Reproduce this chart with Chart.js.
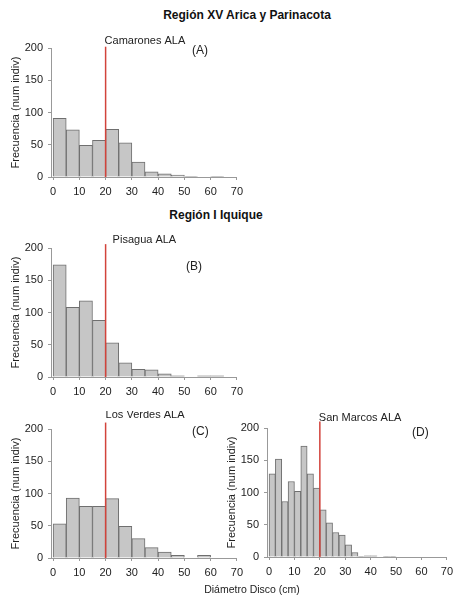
<!DOCTYPE html>
<html>
<head>
<meta charset="utf-8">
<script src="https://cdn.jsdelivr.net/npm/chart.js@4"></script>
<style>
  body { margin: 0; background: #fff; font-family: "Liberation Sans", Arial, sans-serif; }
  #page { position: relative; width: 458px; height: 604px; overflow: hidden; }
  .titulo { position: absolute; font-weight: bold; font-size: 12px; color: #111; white-space: nowrap; transform: translate(-50%, -50%); }
  .panel { position: absolute; }
  #ejeX { position: absolute; left: 252px; top: 589px; font-size: 10.5px; color: #222; transform: translate(-50%, -50%); white-space: nowrap; }
</style>
</head>
<body>
<div id="page">
  <div class="titulo" style="left:247px; top:15px;">Región XV Arica y Parinacota</div>
  <div class="titulo" style="left:216px; top:215px;">Región I Iquique</div>
  <div class="panel" style="left:0px; top:30px; width:248px; height:175px;"><canvas id="graficoA"></canvas></div>
  <div class="panel" style="left:0px; top:230px; width:248px; height:175px;"><canvas id="graficoB"></canvas></div>
  <div class="panel" style="left:0px; top:411px; width:248px; height:175px;"><canvas id="graficoC"></canvas></div>
  <div class="panel" style="left:216px; top:410px; width:242px; height:175px;"><canvas id="graficoD"></canvas></div>
  <div id="ejeX">Diámetro Disco (cm)</div>
</div>
<script>
// centros de clase (cm)
const clases5 = [2.5, 7.5, 12.5, 17.5, 22.5, 27.5, 32.5, 37.5, 42.5, 47.5, 52.5, 57.5, 62.5, 67.5];
const clases25 = [1.25, 3.75, 6.25, 8.75, 11.25, 13.75, 16.25, 18.75, 21.25, 23.75, 26.25, 28.75,
                  31.25, 33.75, 36.25, 38.75, 41.25, 43.75, 46.25, 48.75, 51.25, 53.75, 56.25, 58.75,
                  61.25, 63.75, 66.25, 68.75];

// frecuencias (num indiv)
const frecCamarones = [91, 73, 49, 57, 74, 53, 23, 8, 5, 3, 1, 0, 1, 0];
const frecPisagua = [174, 108, 118, 88, 53, 22, 12, 11, 5, 2, 0, 2, 2, 0];
const frecLosVerdes = [53, 93, 80, 80, 92, 49, 30, 16, 9, 4, 0, 4, 0, 0];
const frecSanMarcos = [129, 152, 86, 117, 102, 172, 129, 107, 73, 53, 38, 34, 19, 7,
                       1, 2, 2, 0, 1, 1, 0, 0, 0, 0, 0, 0, 0, 0];

const ticksX = [0, 10, 20, 30, 40, 50, 60, 70];
const ticksY = [0, 50, 100, 150, 200];
const tallaALA = 20; // linea roja
const alturaLinea = { A: 202, B: 206, C: 210, D: 210 };

const fuente = '"Liberation Sans", Arial, sans-serif';

// textos sobre cada panel
const etiquetasPlugin = {
    id: 'etiquetas',
    afterDraw(chart, args, opts) {
        const ctx = chart.ctx;
        const x20 = chart.scales.x.getPixelForValue(tallaALA);
        ctx.save();
        ctx.fillStyle = '#222';
        ctx.font = '11px ' + fuente;
        ctx.textBaseline = 'middle';
        ctx.textAlign = 'left';
        ctx.fillText(opts.nombre, x20 + opts.dxNombre, opts.yNombre);
        ctx.font = '12px ' + fuente;
        ctx.fillText(opts.letra, opts.xLetra, opts.yLetra);
        ctx.restore();
    }
};

function crearPanel(id, clases, frecuencias, nombre, letra, pos) {
    const ctx = document.getElementById(id).getContext('2d');
    return new Chart(ctx, {
        type: 'bar',
        data: {
            datasets: [
                {
                    type: 'line',
                    data: [{ x: tallaALA, y: 0 }, { x: tallaALA, y: alturaLinea[letra] }],
                    borderColor: '#d2433b',
                    borderWidth: 1.5,
                    pointRadius: 0,
                    clip: false,
                    order: 0
                },
                {
                    data: clases.map((c, i) => ({ x: c, y: frecuencias[i] })),
                    backgroundColor: '#c6c6c6',
                    borderColor: '#6f6f6f',
                    borderWidth: 1,
                    barPercentage: 1,
                    categoryPercentage: 1,
                    order: 1
                }
            ]
        },
        options: {
            responsive: true,
            maintainAspectRatio: false,
            animation: false,
            layout: { padding: { top: 18, right: pos.padDer, bottom: 0, left: 0 } },
            plugins: {
                legend: { display: false },
                tooltip: { enabled: false },
                etiquetas: { nombre: nombre, letra: '(' + letra + ')', dxNombre: pos.dxNombre,
                             yNombre: pos.yNombre, xLetra: pos.xLetra, yLetra: pos.yLetra }
            },
            scales: {
                x: {
                    type: 'linear',
                    offset: false,
                    min: -0.8,
                    max: 70,
                    afterBuildTicks: (s) => { s.ticks = ticksX.map(v => ({ value: v })); },
                    afterFit: (s) => { s.height = 28; },
                    grid: { display: true, offset: false, drawOnChartArea: false, tickLength: 3, color: '#999' },
                    border: { color: '#999' },
                    ticks: { color: '#222', font: { size: 11, family: fuente }, padding: 5, maxRotation: 0 }
                },
                y: {
                    min: 0,
                    max: 200,
                    afterBuildTicks: (s) => { s.ticks = ticksY.map(v => ({ value: v })); },
                    afterFit: (s) => { s.width = 51; },
                    grid: { display: true, drawOnChartArea: false, tickLength: 3, color: '#999' },
                    border: { color: '#999' },
                    ticks: { color: '#222', font: { size: 11, family: fuente }, padding: 5 },
                    title: {
                        display: true,
                        text: 'Frecuencia (num indiv)',
                        color: '#222',
                        font: { size: 11, family: fuente },
                        padding: { top: 9, bottom: 0 }
                    }
                }
            }
        },
        plugins: [etiquetasPlugin]
    });
}

crearPanel('graficoA', clases5, frecCamarones, 'Camarones ALA', 'A',
    { padDer: 11, dxNombre: -1, yNombre: 11, xLetra: 192, yLetra: 21 });
crearPanel('graficoB', clases5, frecPisagua, 'Pisagua ALA', 'B',
    { padDer: 11, dxNombre: 7, yNombre: 10, xLetra: 186, yLetra: 37 });
crearPanel('graficoC', clases5, frecLosVerdes, 'Los Verdes ALA', 'C',
    { padDer: 11, dxNombre: 0, yNombre: 4, xLetra: 192, yLetra: 21 });
crearPanel('graficoD', clases25, frecSanMarcos, 'San Marcos ALA', 'D',
    { padDer: 8, dxNombre: -1, yNombre: 8, xLetra: 196, yLetra: 23 });
</script>
</body>
</html>
